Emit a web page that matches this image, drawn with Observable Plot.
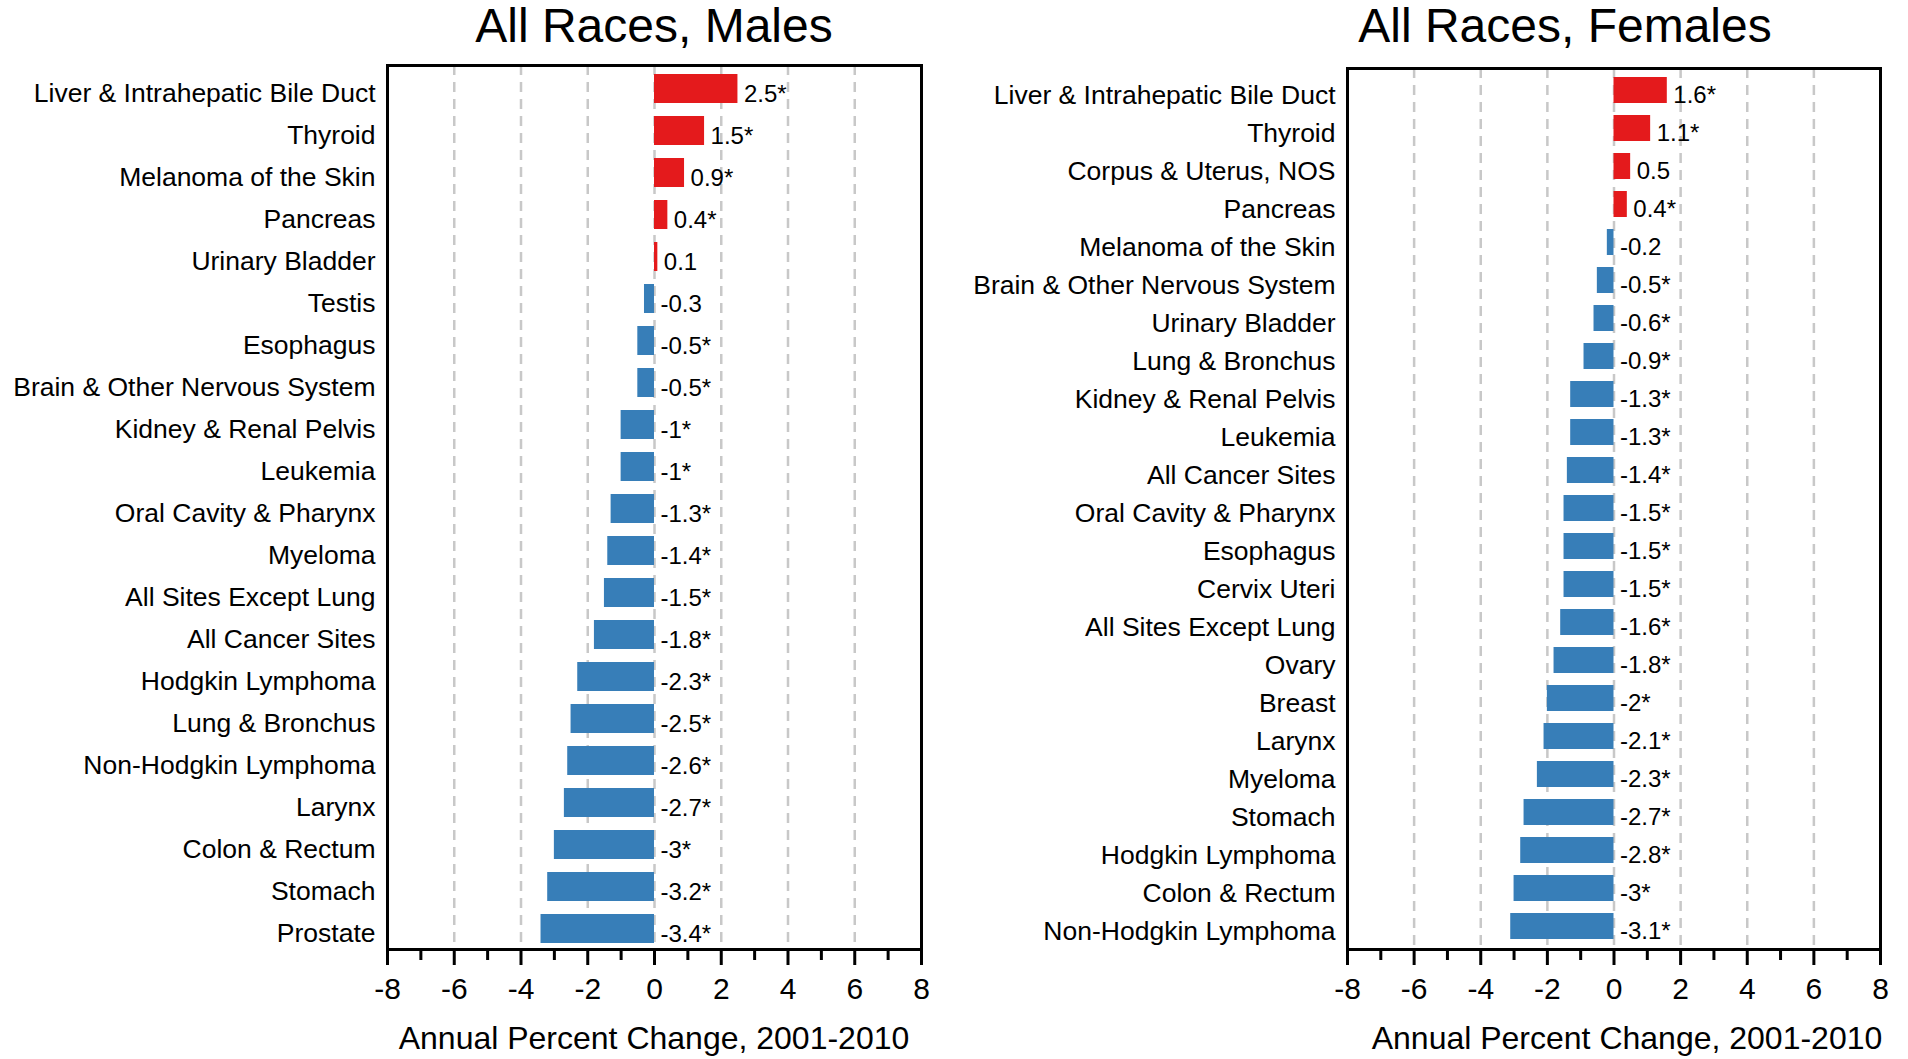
<!DOCTYPE html>
<html>
<head>
<meta charset="utf-8">
<script src="https://cdn.jsdelivr.net/npm/d3@7"></script>
<script src="https://cdn.jsdelivr.net/npm/@observablehq/plot@0.6"></script>
<style>
  body { margin: 0; background: #fff; }
  #wrap { position: relative; width: 1908px; height: 1059px; font-family: "Liberation Sans", Arial, Helvetica, sans-serif; color: #000; overflow: hidden; }
  .panel { position: absolute; top: 0; }
  .title { position: absolute; font-size: 48px; white-space: nowrap; transform: translateX(-50%); line-height: 1; }
  .xlabel { position: absolute; font-size: 32px; white-space: nowrap; transform: translateX(-50%); line-height: 1; }
</style>
</head>
<body>
<div id="wrap">
  <div class="panel" id="male" style="left:0px"></div>
  <div class="panel" id="female" style="left:954px"></div>
  <div class="title" style="left:654px; top:2px">All Races, Males</div>
  <div class="title" style="left:1565px; top:2px">All Races, Females</div>
  <div class="xlabel" style="left:654px; top:1022px">Annual Percent Change, 2001-2010</div>
  <div class="xlabel" style="left:1627px; top:1022px">Annual Percent Change, 2001-2010</div>
</div>
<script>
// ---------- data ----------
const maleSites = [
  "Liver & Intrahepatic Bile Duct", "Thyroid", "Melanoma of the Skin", "Pancreas",
  "Urinary Bladder", "Testis", "Esophagus", "Brain & Other Nervous System",
  "Kidney & Renal Pelvis", "Leukemia", "Oral Cavity & Pharynx", "Myeloma",
  "All Sites Except Lung", "All Cancer Sites", "Hodgkin Lymphoma", "Lung & Bronchus",
  "Non-Hodgkin Lymphoma", "Larynx", "Colon & Rectum", "Stomach", "Prostate"
];
const maleAPC = [2.5, 1.5, 0.9, 0.4, 0.1, -0.3, -0.5, -0.5, -1, -1, -1.3, -1.4, -1.5, -1.8, -2.3, -2.5, -2.6, -2.7, -3, -3.2, -3.4];
const maleSig = [true, true, true, true, false, false, true, true, true, true, true, true, true, true, true, true, true, true, true, true, true];

const femaleSites = [
  "Liver & Intrahepatic Bile Duct", "Thyroid", "Corpus & Uterus, NOS", "Pancreas",
  "Melanoma of the Skin", "Brain & Other Nervous System", "Urinary Bladder", "Lung & Bronchus",
  "Kidney & Renal Pelvis", "Leukemia", "All Cancer Sites", "Oral Cavity & Pharynx",
  "Esophagus", "Cervix Uteri", "All Sites Except Lung", "Ovary", "Breast", "Larynx",
  "Myeloma", "Stomach", "Hodgkin Lymphoma", "Colon & Rectum", "Non-Hodgkin Lymphoma"
];
const femaleAPC = [1.6, 1.1, 0.5, 0.4, -0.2, -0.5, -0.6, -0.9, -1.3, -1.3, -1.4, -1.5, -1.5, -1.5, -1.6, -1.8, -2, -2.1, -2.3, -2.7, -2.8, -3, -3.1];
const femaleSig = [true, true, false, true, false, true, true, true, true, true, true, true, true, true, true, true, true, true, true, true, true, true, true];

const xTicks = [-8, -6, -4, -2, 0, 2, 4, 6, 8];
const xMinorTicks = [-7, -5, -3, -1, 1, 3, 5, 7];
const gridValues = [-6, -4, -2, 0, 2, 4, 6];
const xDomain = [-8, 8];

const RED = "#E41A1C";
const BLUE = "#377EB8";
const FONT = '"Liberation Sans", Arial, Helvetica, sans-serif';

function panel(sites, apc, sig, marginLeft, marginRight, marginTop, yOpts) {
  const data = sites.map((s, i) => ({ site: s, apc: apc[i], label: String(apc[i]) + (sig[i] ? "*" : "") }));
  return Plot.plot({
    width: 954,
    height: 1059,
    marginLeft, marginRight, marginTop,
    marginBottom: 110,
    style: { fontFamily: FONT, background: "transparent", color: "black", overflow: "visible" },
    x: { domain: xDomain },
    y: Object.assign({ domain: sites, axis: null }, yOpts),
    marks: [
      Plot.ruleX(gridValues, { stroke: "#c8c8c8", strokeWidth: 2.5, strokeDasharray: "10,7" }),
      Plot.barX(data.filter(d => d.apc > 0), { x: "apc", y: "site", fill: RED }),
      Plot.barX(data.filter(d => d.apc <= 0), { x: "apc", y: "site", fill: BLUE }),
      Plot.text(data, { x: d => Math.max(0, d.apc), y: "site", text: "label", textAnchor: "start", dx: 6, dy: 5, fontSize: 24, fill: "black" }),
      Plot.text(data, { y: "site", text: "site", frameAnchor: "left", textAnchor: "end", dx: -12, dy: 5, fontSize: 26.5, fill: "black" }),
      Plot.axisX({ ticks: xTicks, tickSize: 16, tickPadding: 12, fontSize: 30, strokeWidth: 3, tickFormat: d => String(d), label: null }),
      Plot.axisX({ ticks: xMinorTicks, tickSize: 11, strokeWidth: 3, text: null, label: null }),
      Plot.frame({ stroke: "black", strokeWidth: 3 })
    ]
  });
}

document.getElementById("male").appendChild(
  panel(maleSites, maleAPC, maleSig, 387, 33, 65, { paddingInner: 0.3, paddingOuter: 0.158, align: 0.62 })
);
document.getElementById("female").appendChild(
  panel(femaleSites, femaleAPC, femaleSig, 393, 28, 68, { paddingInner: 0.32, paddingOuter: 0.07, align: 0.45 })
);
</script>
</body>
</html>
